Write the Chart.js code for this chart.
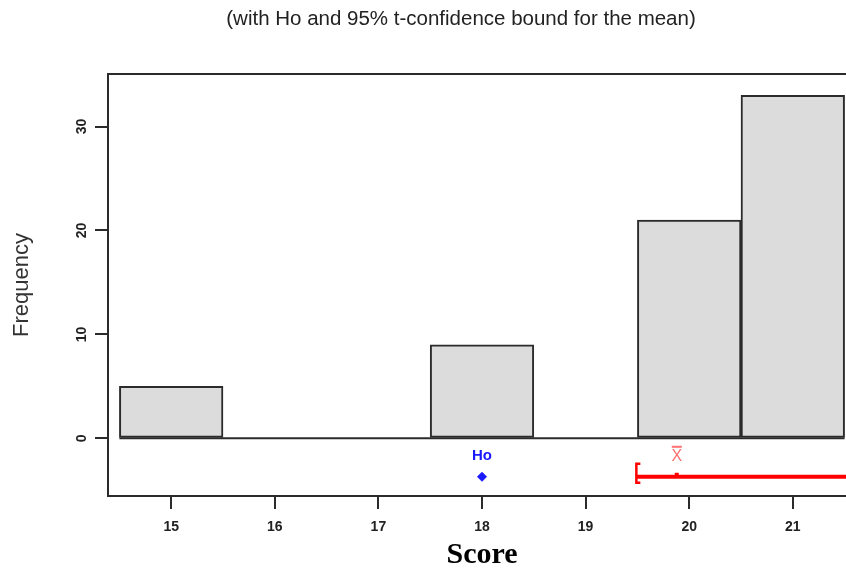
<!DOCTYPE html>
<html>
<head>
<meta charset="utf-8">
<script src="https://cdn.jsdelivr.net/npm/chart.js@4/dist/chart.umd.min.js"></script>
<style>
  html, body { margin: 0; padding: 0; overflow: hidden; background: #fff; }
  #wrap { width: 922px; height: 571px; }
</style>
</head>
<body>
<div id="wrap"><canvas id="myChart"></canvas></div>
<script>
// histogram bins (centers) and counts
let binCenters = [15, 16, 17, 18, 19, 20, 21];
let counts = [5, 0, 0, 9, 0, 21, 33];
let xTicks = [15, 16, 17, 18, 19, 20, 21];
let yTicks = [0, 10, 20, 30];

// Ho and the 95% lower t-confidence bound for the mean
let h0 = 18;
let xBar = 19.88;
let ciLower = 19.49;
let markerY = -3.7;

let header = "(with Ho and 95% t-confidence bound for the mean)";

const xMin = 14.39, xMax = 21.61;
const yMin = -5.55, yMax = 35.06;
const edge = "#2b2b2b";

let barData = [];
for (let i = 0; i < binCenters.length; i++) {
  barData.push({ x: binCenters[i], y: counts[i] });
}
let baseLine = [
  { x: binCenters[0] - 0.5, y: 0 },
  { x: binCenters[binCenters.length - 1] + 0.5, y: 0 },
];

// header, frame top line, Ho / xbar labels, bracket
const extras = {
  id: "extras",
  afterDatasetsDraw(chart) {
    const { ctx, chartArea, scales } = chart;
    const x = scales.x, y = scales.y;
    ctx.save();
    ctx.fillStyle = "#222";
    ctx.font = "20.5px 'Liberation Sans'";
    ctx.textAlign = "center";
    ctx.textBaseline = "middle";
    ctx.fillText(header, chart.width / 2, 19);

    ctx.strokeStyle = edge;
    ctx.lineWidth = 2;
    ctx.beginPath();
    ctx.moveTo(chartArea.left - 1, chartArea.top);
    ctx.lineTo(chartArea.right, chartArea.top);
    ctx.stroke();

    const my = y.getPixelForValue(markerY);
    // Ho label
    ctx.fillStyle = "#1a1aff";
    ctx.font = "bold 15px 'Liberation Sans'";
    ctx.fillText("Ho", x.getPixelForValue(h0), my - 21);

    // bracket at lower bound
    const bx = x.getPixelForValue(ciLower);
    ctx.strokeStyle = "#ff0000";
    ctx.lineWidth = 2.5;
    ctx.beginPath();
    ctx.moveTo(bx + 4, my - 13);
    ctx.lineTo(bx, my - 13);
    ctx.lineTo(bx, my + 6);
    ctx.lineTo(bx + 4, my + 6);
    ctx.stroke();

    // xbar tick and label
    const mx = x.getPixelForValue(xBar);
    ctx.fillStyle = "#ff0000";
    ctx.fillRect(mx - 2, my - 4, 4, 3);
    ctx.fillStyle = "#ff7070";
    ctx.font = "16px 'Liberation Sans'";
    ctx.fillText("X", mx, my - 20);
    ctx.fillRect(mx - 5, my - 31, 10, 2);
    ctx.restore();
  },
};

let myChart = document.getElementById("myChart").getContext("2d");
let myGraph = new Chart(myChart, {
  type: "bar",
  data: {
    datasets: [
      {
        type: "line",
        data: baseLine,
        borderColor: edge,
        borderWidth: 2,
        pointRadius: 0,
        order: 2,
      },
      {
        label: "Frequency",
        data: barData,
        backgroundColor: "#dcdcdc",
        borderColor: edge,
        borderWidth: 2,
        borderSkipped: false,
        barPercentage: 1,
        categoryPercentage: 1,
        order: 1,
      },
      {
        type: "line",
        data: [{ x: ciLower, y: markerY }, { x: xMax, y: markerY }],
        borderColor: "#ff0000",
        borderWidth: 4,
        pointRadius: 0,
        order: 0,
      },
      {
        type: "line",
        data: [{ x: h0, y: markerY }],
        showLine: false,
        pointStyle: "rectRot",
        pointRadius: 4.5,
        backgroundColor: "#1a1aff",
        borderColor: "#1a1aff",
        order: 0,
      },
    ],
  },
  options: {
    responsive: true,
    maintainAspectRatio: false,
    animation: false,
    layout: { padding: { left: 0, right: 66, top: 74, bottom: 0 } },
    plugins: {
      legend: { display: false },
      tooltip: { enabled: false },
      title: { display: false },
    },
    scales: {
      x: {
        type: "linear",
        min: xMin,
        max: xMax,
        offset: false,
        afterBuildTicks: (s) => { s.ticks = xTicks.map((v) => ({ value: v })); },
        afterFit: (s) => { s.height = 75; },
        grid: { offset: false, drawOnChartArea: false, drawTicks: true, tickLength: 13, color: edge, lineWidth: 2 },
        border: { display: true, color: edge, width: 2 },
        ticks: {
          color: "#222",
          padding: 10,
          font: { family: "'Liberation Sans'", size: 14, weight: "bold" },
        },
        title: {
          display: true,
          text: "Score",
          color: "#000",
          font: { family: "'Liberation Serif'", size: 30, weight: "bold", lineHeight: 1.05 },
          padding: { top: 0, bottom: 0 },
        },
      },
      y: {
        min: yMin,
        max: yMax,
        afterBuildTicks: (s) => { s.ticks = yTicks.map((v) => ({ value: v })); },
        afterFit: (s) => { s.width = 108; },
        grid: { drawOnChartArea: false, drawTicks: true, tickLength: 13, color: edge, lineWidth: 2 },
        border: { display: true, color: edge, width: 2 },
        ticks: {
          color: "#222",
          padding: 5,
          minRotation: 90,
          maxRotation: 90,
          crossAlign: "center",
          font: { family: "'Liberation Sans'", size: 14, weight: "bold" },
        },
        title: {
          display: true,
          text: "Frequency",
          color: "#333",
          font: { family: "'Liberation Sans'", size: 22, weight: "normal" },
          padding: { top: 9, bottom: 0 },
        },
      },
    },
  },
  plugins: [extras],
});
</script>
</body>
</html>
